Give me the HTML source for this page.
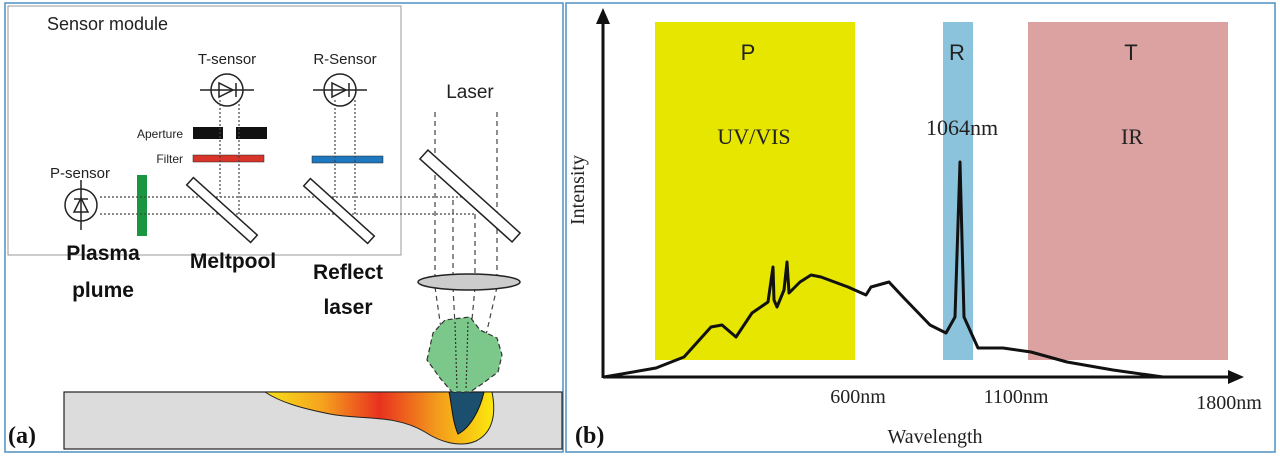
<!DOCTYPE html>
<html><head><meta charset="utf-8"><style>
html,body{margin:0;padding:0;background:#fff;}
svg{display:block;}
text{font-family:"Liberation Sans",sans-serif;}
text.s,.s text{font-family:"Liberation Serif",serif;}
</style></head><body>
<svg width="1280" height="458" viewBox="0 0 1280 458" xmlns="http://www.w3.org/2000/svg">
<defs>
<linearGradient id="mp" x1="0" y1="0" x2="1" y2="0">
<stop offset="0" stop-color="#f7e21a"/><stop offset="0.25" stop-color="#f6a21e"/><stop offset="0.5" stop-color="#e8321e"/><stop offset="0.75" stop-color="#f39a1c"/><stop offset="1" stop-color="#fbe80e"/>
</linearGradient>
</defs>
<rect x="0" y="0" width="1280" height="458" fill="#fff"/>
<rect x="5" y="3" width="558" height="449" fill="none" stroke="#4f8fc0" stroke-width="1.5"/>
<rect x="566" y="3" width="709" height="449" fill="none" stroke="#4f8fc0" stroke-width="1.5"/>

<!-- Panel A -->
<rect x="8" y="6" width="393" height="249" fill="none" stroke="#999" stroke-width="1"/>
<text x="47" y="30" font-size="18" fill="#222">Sensor module</text>
<text x="227" y="64" font-size="15" text-anchor="middle" fill="#222">T-sensor</text>
<text x="345" y="64" font-size="15" text-anchor="middle" fill="#222">R-Sensor</text>
<text x="470" y="98" font-size="19" text-anchor="middle" fill="#222">Laser</text>
<text x="80" y="178" font-size="15" text-anchor="middle" fill="#222">P-sensor</text>
<text x="183" y="138" font-size="12" text-anchor="end" fill="#222">Aperture</text>
<text x="183" y="163" font-size="12" text-anchor="end" fill="#222">Filter</text>

<g stroke="#222" stroke-width="1.5" fill="none">
<circle cx="227" cy="90" r="16"/><line x1="200" y1="90" x2="254" y2="90"/>
<path d="M219 83 L219 97 L233 90 Z"/><line x1="236" y1="83" x2="236" y2="97"/>
<circle cx="340" cy="90" r="16"/><line x1="313" y1="90" x2="367" y2="90"/>
<path d="M332 83 L332 97 L346 90 Z"/><line x1="349" y1="83" x2="349" y2="97"/>
<circle cx="81" cy="205" r="16"/><line x1="81" y1="180" x2="81" y2="230"/>
<path d="M74 212 L88 212 L81 198 Z"/><line x1="74" y1="199" x2="88" y2="199"/>
</g>
<rect x="193" y="127" width="30" height="12" fill="#111"/>
<rect x="236" y="127" width="31" height="12" fill="#111"/>
<rect x="193" y="155" width="71" height="7" fill="#d9342a" stroke="#222" stroke-width="0.5"/>
<rect x="312" y="156" width="71" height="7" fill="#1d78c0" stroke="#222" stroke-width="0.5"/>
<rect x="137" y="175" width="10" height="61" fill="#1a9640"/>

<g stroke="#444" stroke-width="1.2" stroke-dasharray="2,2" fill="none">
<line x1="100" y1="197" x2="476" y2="197"/>
<line x1="100" y1="214" x2="476" y2="214"/>
<line x1="220" y1="100" x2="220" y2="197"/>
<line x1="239" y1="100" x2="239" y2="214"/>
<line x1="335" y1="100" x2="335" y2="197"/>
<line x1="355" y1="100" x2="355" y2="214"/>
</g>
<g stroke="#444" stroke-width="1.2" stroke-dasharray="5,4" fill="none">
<line x1="435" y1="112" x2="435" y2="282"/>
<line x1="497" y1="112" x2="497" y2="282"/>
<line x1="453" y1="200" x2="453" y2="282"/>
<line x1="475" y1="214" x2="475" y2="282"/>
<line x1="435" y1="287" x2="447" y2="370"/>
<line x1="453" y1="287" x2="458" y2="385"/>
<line x1="475" y1="287" x2="466" y2="385"/>
<line x1="497" y1="287" x2="478" y2="370"/>
</g>

<g fill="#fff" stroke="#222" stroke-width="1.5">
<rect x="-43" y="-5" width="86" height="10" transform="translate(222,210) rotate(42)"/>
<rect x="-43" y="-5" width="86" height="10" transform="translate(339,211) rotate(42)"/>
<rect x="-62" y="-6" width="124" height="12" transform="translate(470,196) rotate(42)"/>
</g>
<ellipse cx="469" cy="282" rx="51" ry="8" fill="#ccc" stroke="#222" stroke-width="1.5"/>

<g font-weight="bold" font-size="21" fill="#111" text-anchor="middle">
<text x="103" y="260">Plasma</text>
<text x="103" y="297">plume</text>
<text x="233" y="268">Meltpool</text>
<text x="348" y="279">Reflect</text>
<text x="348" y="314">laser</text>
</g>

<rect x="64" y="392" width="498" height="57" fill="#dcdcdc" stroke="#222" stroke-width="1.2"/>
<path d="M265 392 L492 392 C496 412 494 432 476 441 C460 448 440 442 425 432 C395 414 360 420 330 414 C300 408 280 402 265 392 Z" fill="url(#mp)" stroke="#222" stroke-width="1"/>
<path d="M449 392 L484 392 C480 410 470 428 458 434 C452 420 452 405 449 392 Z" fill="#1c4e6e" stroke="#111" stroke-width="1"/>
<path d="M427 360 L433 333 L445 320 L470 317 L480 330 L497 338 L502 355 L498 372 L482 384 L470 392 L452 392 L440 378 Z" fill="#7cc88a" stroke="#333" stroke-width="1.2" stroke-dasharray="5,3"/>
<g stroke="#333" stroke-width="1.2" stroke-dasharray="2,2"><line x1="455" y1="322" x2="457" y2="390"/><line x1="468" y1="322" x2="466" y2="390"/></g>

<text x="8" y="443" class="s" font-size="24" font-weight="bold" fill="#111">(a)</text>

<!-- Panel B -->
<rect x="655" y="22" width="200" height="338" fill="#e6e600"/>
<rect x="943" y="22" width="30" height="338" fill="#8cc3dc"/>
<rect x="1028" y="22" width="200" height="338" fill="#dca2a2"/>
<g stroke="#111" stroke-width="3" fill="none">
<line x1="603" y1="378" x2="603" y2="20"/>
<line x1="603" y1="377" x2="1232" y2="377"/>
</g>
<path d="M603 8 L596 24 L610 24 Z" fill="#111"/>
<path d="M1244 377 L1228 370 L1228 384 Z" fill="#111"/>
<path d="M604 377 L656 368 L684 357 L711 327 L722 325 L736 337 L752 313 L768 302 L773 267 L774 300 L777 307 L784 290 L787 262 L789 293 L800 282 L811 275 L821 277 L848 287 L866 295 L871 287 L889 282 L903 297 L930 325 L946 333 L955 317 L960 162 L964 317 L978 348 L1003 348 L1031 352 L1067 362 L1113 370 L1163 377" fill="none" stroke="#111" stroke-width="3" stroke-linejoin="round"/>
<g font-size="22" fill="#222" text-anchor="middle">
<text x="748" y="60">P</text><text x="957" y="60">R</text><text x="1131" y="60">T</text>
</g>
<g class="s" font-size="22" fill="#222" text-anchor="middle">
<text x="754" y="144">UV/VIS</text>
<text x="962" y="135">1064nm</text>
<text x="1132" y="144">IR</text>
<text x="858" y="403" font-size="20">600nm</text>
<text x="1016" y="403" font-size="20">1100nm</text>
<text x="1229" y="409" font-size="20">1800nm</text>
<text x="935" y="443" font-size="20">Wavelength</text>
<text transform="translate(584,190) rotate(-90)" font-size="20">Intensity</text>
</g>
<text x="575" y="443" class="s" font-size="24" font-weight="bold" fill="#111">(b)</text>
</svg>
</body></html>
